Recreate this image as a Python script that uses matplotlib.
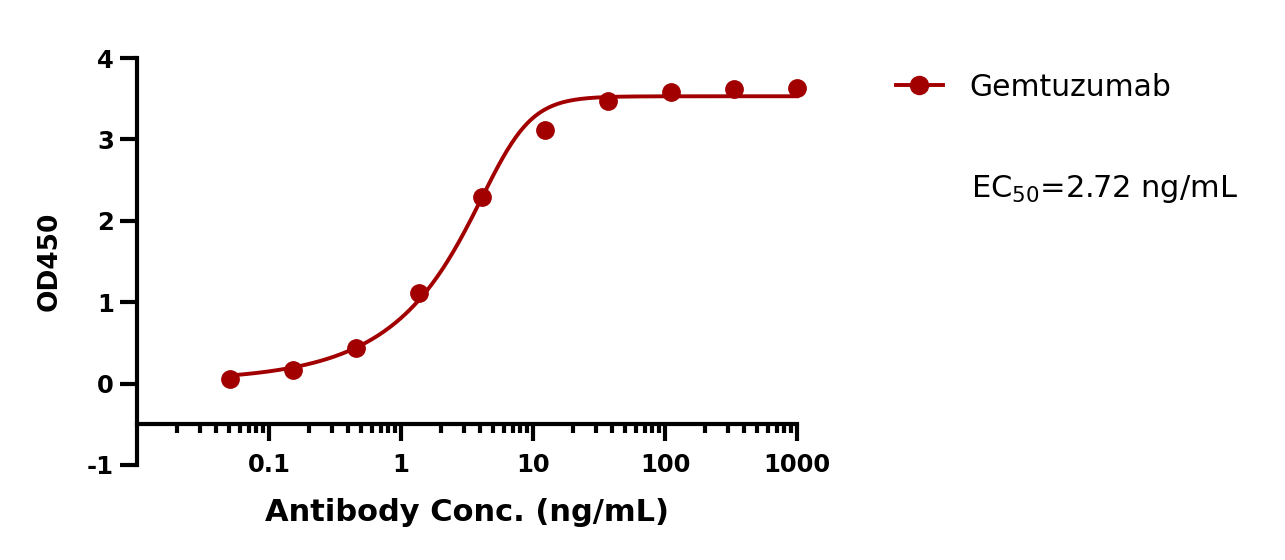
import numpy as np
import matplotlib.pyplot as plt

plt.rcParams['font.family'] = ['DejaVu Sans']
plt.rcParams['mathtext.fontset'] = 'dejavusans'

# measured points (3-fold dilution series)
conc = [0.0508, 0.152, 0.457, 1.372, 4.115, 12.35, 37.04, 111.1, 333.3, 1000.0]
od450 = [0.06, 0.17, 0.44, 1.11, 2.29, 3.12, 3.47, 3.58, 3.62, 3.63]

# fitted curve parameters (5PL)
bottom = 0.03
top = 3.53
mid = 6.41
hill = 2.7
asym = 0.3

series_name = 'Gemtuzumab'
ec50_text = 'EC$_{50}$=2.72 ng/mL'
color = '#a20000'

x_ticks = [0.1, 1, 10, 100, 1000]
x_tick_labels = ['0.1', '1', '10', '100', '1000']
y_ticks = [-1, 0, 1, 2, 3, 4]
y_tick_labels = ['-1', '0', '1', '2', '3', '4']


def fit_curve(x):
    return bottom + (top - bottom) / (1 + (mid / x) ** hill) ** asym


W, H = 1285, 560
fig = plt.figure(figsize=(W / 100, H / 100), dpi=100)
ax = fig.add_axes([137 / W, 95 / H, 660 / W, 407 / H])

xs = np.logspace(np.log10(conc[0]), np.log10(conc[-1]), 400)
ax.plot(xs, fit_curve(xs), color=color, lw=2.8, zorder=3, clip_on=False)
ax.plot(conc, od450, 'o', color=color, ms=12.5, zorder=4, clip_on=False)

ax.set_xscale('log')
ax.set_xlim(0.01, 1000)
ax.set_ylim(-1, 4)

for s in ['top', 'right']:
    ax.spines[s].set_visible(False)
ax.spines['left'].set_linewidth(3)
ax.spines['bottom'].set_linewidth(3)
ax.spines['bottom'].set_position(('data', -0.5))

ax.set_xticks(x_ticks)
ax.set_xticklabels(x_tick_labels)
ax.set_xticks([m * 10.0 ** e for e in range(-2, 3) for m in range(2, 10)], minor=True)
ax.set_yticks(y_ticks)
ax.set_yticklabels(y_tick_labels)
ax.tick_params(axis='both', which='major', direction='out', length=12, width=3,
               labelsize=17.5)
ax.tick_params(axis='x', which='minor', direction='out', length=6.5, width=3)
ax.tick_params(axis='x', which='major', pad=9)
ax.tick_params(axis='y', which='major', pad=4.5)
for lab in ax.get_xticklabels() + ax.get_yticklabels():
    lab.set_fontweight('bold')

ax.set_xlabel('Antibody Conc. (ng/mL)', fontsize=22, fontweight='bold')
ax.set_ylabel('OD450', fontsize=19, fontweight='bold')
ax.xaxis.set_label_coords(0.5, -0.081)
ax.yaxis.set_label_coords(-0.112, 0.5)

# legend drawn by hand, at the right of the plot
ly = 1 - 85 / H
fig.add_artist(plt.Line2D([896 / W, 943 / W], [ly, ly], color=color, lw=2.8,
                          transform=fig.transFigure))
fig.add_artist(plt.Line2D([919 / W], [ly], color=color, marker='o', ms=13,
                          transform=fig.transFigure))
fig.text(969 / W, 1 - 96 / H, series_name, fontsize=21.5, va='baseline', ha='left')
fig.text(971 / W, 1 - 197 / H, ec50_text, fontsize=22, va='baseline', ha='left')

fig.savefig('out.png', dpi=100)
